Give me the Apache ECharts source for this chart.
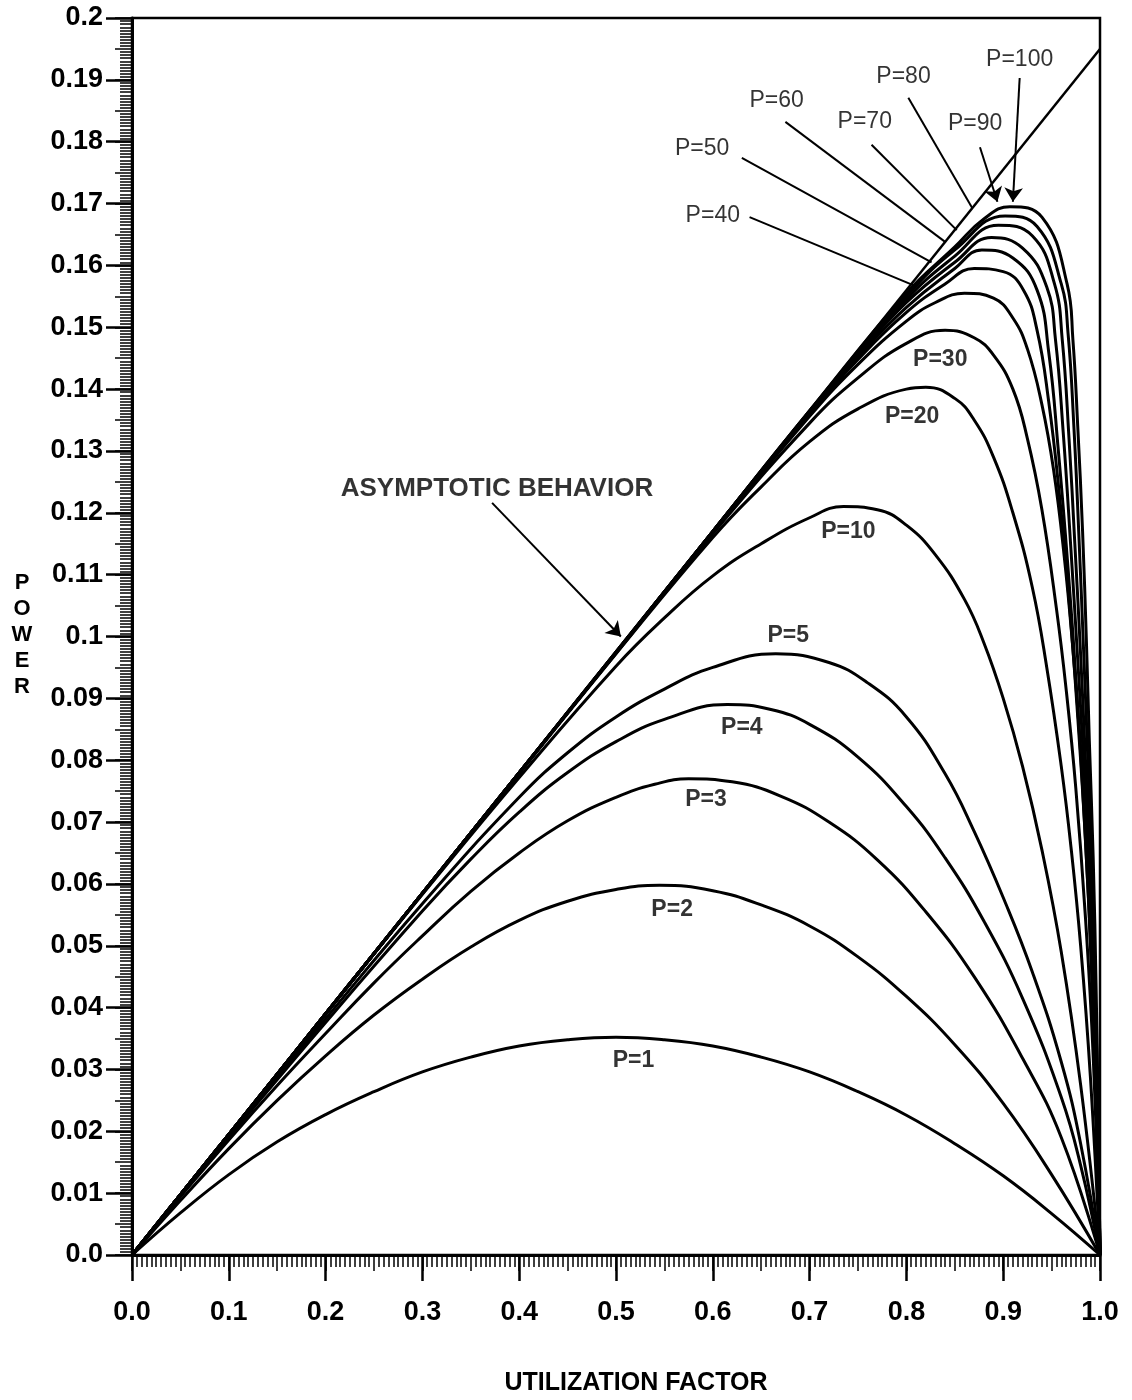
<!DOCTYPE html>
<html>
<head>
<meta charset="utf-8">
<script src="https://cdn.jsdelivr.net/npm/echarts@6/dist/echarts.min.js"></script>
<style>
html,body{margin:0;padding:0;background:#fff;}
#chart{width:1132px;height:1400px;}
</style>
</head>
<body>
<div id="chart"></div>
<script>
// ---- data ----
const asymptote = [[0,0],[1.0,0.195]];
const p1 = [[0,0],[0.05,0.0068],[0.1,0.0130],[0.15,0.0183],[0.2,0.0227],[0.25,0.0264],[0.3,0.0296],[0.35,0.0320],[0.4,0.0338],[0.45,0.0348],[0.5,0.0352],[0.55,0.0348],[0.6,0.0338],[0.65,0.0320],[0.7,0.0296],[0.75,0.0264],[0.8,0.0226],[0.85,0.0180],[0.9,0.0128],[0.95,0.0067],[1,0]];
const p2 = [[0,0],[0.05,0.0088],[0.1,0.0172],[0.15,0.0250],[0.2,0.0322],[0.25,0.0388],[0.3,0.0446],[0.35,0.0498],[0.4,0.0541],[0.45,0.0572],[0.5,0.0591],[0.545,0.0598],[0.6,0.0589],[0.65,0.0566],[0.7,0.0532],[0.75,0.0482],[0.8,0.0418],[0.85,0.0340],[0.9,0.0245],[0.95,0.0130],[1,0]];
const p3 = [[0,0],[0.05,0.0094],[0.1,0.0186],[0.15,0.0274],[0.2,0.0358],[0.25,0.0440],[0.3,0.0516],[0.35,0.0588],[0.4,0.0650],[0.45,0.0702],[0.5,0.0740],[0.54,0.0761],[0.575,0.0770],[0.62,0.0765],[0.67,0.0742],[0.72,0.0700],[0.77,0.0639],[0.82,0.0555],[0.87,0.0450],[0.92,0.0318],[0.96,0.0190],[1,0]];
const p4 = [[0,0],[0.05,0.0096],[0.1,0.0190],[0.2,0.0376],[0.3,0.0556],[0.35,0.0640],[0.4,0.0716],[0.45,0.0780],[0.5,0.0830],[0.55,0.0866],[0.615,0.0890],[0.66,0.0882],[0.7,0.0858],[0.75,0.0805],[0.8,0.0725],[0.84,0.0642],[0.88,0.0540],[0.92,0.0415],[0.96,0.0255],[0.98,0.0145],[1,0]];
const p5 = [[0,0],[0.05,0.0097],[0.1,0.0192],[0.2,0.0382],[0.3,0.0568],[0.4,0.0740],[0.45,0.0812],[0.5,0.0870],[0.55,0.0915],[0.6,0.0950],[0.665,0.0972],[0.72,0.0958],[0.76,0.0925],[0.8,0.0870],[0.84,0.0778],[0.87,0.0685],[0.9,0.0578],[0.93,0.0458],[0.96,0.0312],[0.98,0.0180],[1,0]];
const p10 = [[0,0],[0.1,0.0195],[0.2,0.0390],[0.3,0.0583],[0.4,0.0772],[0.5,0.0952],[0.55,0.1030],[0.6,0.1098],[0.65,0.1150],[0.7,0.1192],[0.735,0.1210],[0.77,0.1205],[0.8,0.1180],[0.83,0.1132],[0.86,0.1060],[0.88,0.0990],[0.9,0.0900],[0.92,0.0790],[0.94,0.0655],[0.96,0.0490],[0.98,0.0275],[1,0]];
const p20 = [[0,0],[0.1,0.0195],[0.2,0.0390],[0.3,0.0584],[0.4,0.0778],[0.5,0.0972],[0.6,0.1160],[0.65,0.1242],[0.7,0.1315],[0.75,0.1368],[0.8,0.1400],[0.82,0.1403],[0.85,0.1385],[0.87,0.1350],[0.89,0.1290],[0.91,0.1200],[0.93,0.1080],[0.945,0.0950],[0.96,0.0790],[0.97,0.0660],[0.98,0.0500],[0.99,0.0290],[1,0]];
const p30 = [[0,0],[0.1,0.0195],[0.2,0.0390],[0.3,0.0585],[0.4,0.0780],[0.5,0.0973],[0.6,0.1166],[0.7,0.1345],[0.75,0.1418],[0.8,0.1474],[0.84,0.1495],[0.87,0.1483],[0.89,0.1455],[0.91,0.1400],[0.925,0.1320],[0.94,0.1205],[0.955,0.1045],[0.965,0.0915],[0.975,0.0755],[0.985,0.0545],[0.993,0.0320],[1,0]];
const p40 = [[0,0],[0.1,0.0195],[0.2,0.0390],[0.3,0.0585],[0.4,0.0780],[0.5,0.0974],[0.6,0.1168],[0.7,0.1356],[0.75,0.1440],[0.8,0.1510],[0.83,0.1540],[0.86,0.1555],[0.89,0.1547],[0.91,0.1515],[0.925,0.1465],[0.94,0.1375],[0.952,0.1270],[0.963,0.1130],[0.972,0.0980],[0.98,0.0820],[0.987,0.0650],[0.993,0.0460],[0.997,0.0260],[1,0]];
const p50 = [[0,0],[0.1,0.0195],[0.2,0.0390],[0.3,0.0585],[0.4,0.0780],[0.5,0.0974],[0.6,0.1169],[0.7,0.1360],[0.75,0.1448],[0.8,0.1524],[0.84,0.1570],[0.87,0.1595],[0.9,0.1590],[0.921,0.1560],[0.935,0.1495],[0.947,0.1380],[0.958,0.1230],[0.968,0.1060],[0.977,0.0870],[0.985,0.0670],[0.992,0.0440],[0.997,0.0220],[1,0]];
const p60 = [[0,0],[0.1,0.0195],[0.2,0.0390],[0.3,0.0585],[0.4,0.0780],[0.5,0.0974],[0.6,0.1170],[0.7,0.1362],[0.75,0.1452],[0.8,0.1532],[0.85,0.1595],[0.878,0.1625],[0.91,0.1612],[0.935,0.1560],[0.947,0.1460],[0.957,0.1300],[0.967,0.1110],[0.976,0.0910],[0.984,0.0700],[0.991,0.0470],[0.996,0.0250],[1,0]];
const p70 = [[0,0],[0.1,0.0195],[0.2,0.0390],[0.3,0.0585],[0.4,0.0780],[0.5,0.0974],[0.6,0.1170],[0.7,0.1363],[0.75,0.1455],[0.8,0.1540],[0.85,0.1605],[0.888,0.1645],[0.92,0.1628],[0.945,0.1565],[0.954,0.1480],[0.962,0.1330],[0.970,0.1140],[0.977,0.0962],[0.983,0.0800],[0.988,0.0639],[0.993,0.0440],[0.997,0.0240],[1,0]];
const p80 = [[0,0],[0.1,0.0195],[0.2,0.0390],[0.3,0.0585],[0.4,0.0780],[0.5,0.0975],[0.6,0.1170],[0.7,0.1364],[0.8,0.1545],[0.85,0.1615],[0.895,0.1665],[0.93,0.1648],[0.953,0.1570],[0.961,0.1480],[0.968,0.1320],[0.974,0.1150],[0.98,0.0970],[0.985,0.0800],[0.99,0.0639],[0.994,0.0450],[0.997,0.0260],[1,0]];
const p90 = [[0,0],[0.1,0.0195],[0.2,0.0390],[0.3,0.0585],[0.4,0.0780],[0.5,0.0975],[0.6,0.1170],[0.7,0.1365],[0.8,0.1550],[0.85,0.1625],[0.902,0.1680],[0.935,0.1663],[0.96,0.1570],[0.967,0.1490],[0.973,0.1340],[0.978,0.1170],[0.983,0.0980],[0.987,0.0820],[0.991,0.0640],[0.995,0.0430],[0.998,0.0220],[1,0]];
const p100 = [[0,0],[0.1,0.0195],[0.2,0.0390],[0.3,0.0585],[0.4,0.0780],[0.5,0.0975],[0.6,0.1170],[0.7,0.1365],[0.8,0.1555],[0.85,0.1630],[0.88,0.1675],[0.907,0.1695],[0.94,0.1678],[0.966,0.1570],[0.972,0.1480],[0.977,0.1340],[0.982,0.1170],[0.986,0.0990],[0.989,0.0830],[0.993,0.0640],[0.996,0.0430],[0.998,0.0240],[1,0]];

const curveNames = ['P=1','P=2','P=3','P=4','P=5','P=10','P=20','P=30','P=40','P=50','P=60','P=70','P=80','P=90','P=100'];
const curveData = [p1,p2,p3,p4,p5,p10,p20,p30,p40,p50,p60,p70,p80,p90,p100];

// annotation texts and anchor points (data coordinates)
const labelTexts = ['P=1','P=2','P=3','P=4','P=5','P=10','P=20','P=30','P=40','P=50','P=60','P=70','P=80','P=90','P=100'];
const labelAnchors = [[0.518,0.0315],[0.558,0.0558],[0.593,0.0736],[0.630,0.0852],[0.678,0.1001],[0.740,0.1169],[0.806,0.1355],[0.835,0.1447],[0.600,0.1681],[0.589,0.1788],[0.666,0.1867],[0.757,0.1832],[0.797,0.1905],[0.871,0.1829],[0.917,0.1932]];
const noteText = 'ASYMPTOTIC BEHAVIOR';
const noteAnchor = [0.377,0.1238];

// leader lines (data coordinates)
const plainLeaders = [
  [[0.638,0.1678],[0.807,0.1568]],
  [[0.630,0.1774],[0.826,0.1605]],
  [[0.675,0.1832],[0.840,0.1638]],
  [[0.764,0.1795],[0.852,0.1657]],
  [[0.802,0.1871],[0.868,0.1693]]
];
const arrowLeaders = [
  [[0.876,0.1791],[0.894,0.1703]],
  [[0.917,0.1903],[0.910,0.1703]],
  [[0.372,0.1216],[0.505,0.1000]]
];

const FONT = '"Liberation Sans", Arial, Helvetica, sans-serif';

const chart = echarts.init(document.getElementById('chart'), null, {renderer:'canvas'});

const series = [];
series.push({
  type:'line', name:'asymptote', data: asymptote, showSymbol:false, symbol:'none',
  lineStyle:{color:'#000', width:2.5}, z:3, animation:false
});
curveData.forEach((d,i)=>{
  series.push({
    type:'line', name: curveNames[i], data: d, symbol:'none', showSymbol:false,
    smooth:0.45,
    lineStyle:{color:'#000', width:3}, z:3, animation:false
  });
});
series.push({
  type:'lines', coordinateSystem:'cartesian2d', polyline:false,
  data: plainLeaders.map(c=>({coords:c})),
  lineStyle:{color:'#000', width:2, opacity:1, curveness:0},
  symbol:['none','none'], animation:false, z:4
});
series.push({
  type:'lines', coordinateSystem:'cartesian2d', polyline:false,
  data: arrowLeaders.map(c=>({coords:c})),
  lineStyle:{color:'#000', width:2, opacity:1, curveness:0},
  symbol:['none','arrow'], symbolSize:14, animation:false, z:4
});
series.push({
  type:'scatter', symbolSize:1, itemStyle:{color:'rgba(255,255,255,0)'},
  data: labelAnchors.map((a,i)=>({value:a, label:{formatter:labelTexts[i], fontWeight: i<8 ? 'bold':'normal'}})),
  label:{show:true, position:'inside', color:'#000', fontSize:23, fontFamily:FONT},
  animation:false, z:5, silent:true
});
series.push({
  type:'scatter', symbolSize:1, itemStyle:{color:'rgba(255,255,255,0)'},
  data: [{value:noteAnchor, label:{formatter:noteText}}],
  label:{show:true, position:'inside', color:'#000', fontSize:26, fontWeight:'bold', fontFamily:FONT},
  animation:false, z:5, silent:true
});

const option = {
  backgroundColor:'#fff',
  animation:false,
  grid:{left:132, right:32, top:18, bottom:145, show:true, borderColor:'#000', borderWidth:2.5, backgroundColor:'transparent'},
  xAxis:[{
    type:'value', min:0, max:1, interval:0.1, position:'bottom',
    axisLine:{show:true, onZero:false, lineStyle:{color:'#000', width:3}},
    axisTick:{show:true, inside:false, length:26, lineStyle:{color:'#000', width:2.5}},
    minorTick:{show:true, splitNumber:20, length:12, lineStyle:{color:'#000', width:1.5}},
    splitLine:{show:false}, minorSplitLine:{show:false},
    axisLabel:{formatter:v=>(+v).toFixed(1), color:'#000', fontSize:27, fontWeight:'bold', fontFamily:FONT, margin:44}
  },{
    type:'value', min:0, max:1, interval:0.05, position:'bottom',
    axisLine:{show:false}, axisLabel:{show:false}, splitLine:{show:false},
    axisTick:{show:true, length:16, lineStyle:{color:'#000', width:1.5}}
  }],
  yAxis:[{
    type:'value', min:0, max:0.2, interval:0.01, position:'left',
    axisLine:{show:true, onZero:false, lineStyle:{color:'#000', width:3}},
    axisTick:{show:true, inside:false, length:26, lineStyle:{color:'#000', width:2.5}},
    minorTick:{show:true, splitNumber:20, length:12, lineStyle:{color:'#000', width:1.5}},
    splitLine:{show:false}, minorSplitLine:{show:false},
    axisLabel:{formatter:v=> v===0 ? '0.0' : String(+(+v).toFixed(3)), color:'#000', fontSize:27, fontWeight:'bold', fontFamily:FONT, margin:29}
  },{
    type:'value', min:0, max:0.2, interval:0.005, position:'left',
    axisLine:{show:false}, axisLabel:{show:false}, splitLine:{show:false},
    axisTick:{show:true, length:17, lineStyle:{color:'#000', width:1.5}}
  }],
  graphic:[{
    type:'text', x:22, y:635,
    style:{text:'P\nO\nW\nE\nR', fill:'#000', fontSize:22, fontWeight:'bold', fontFamily:FONT, align:'center', verticalAlign:'middle', lineHeight:26}
  },{
    type:'text', x:636, y:1383,
    style:{text:'UTILIZATION FACTOR', fill:'#000', fontSize:25, fontWeight:'bold', fontFamily:FONT, align:'center', verticalAlign:'middle'}
  }],
  series: series
};
chart.setOption(option);
</script>
</body>
</html>
